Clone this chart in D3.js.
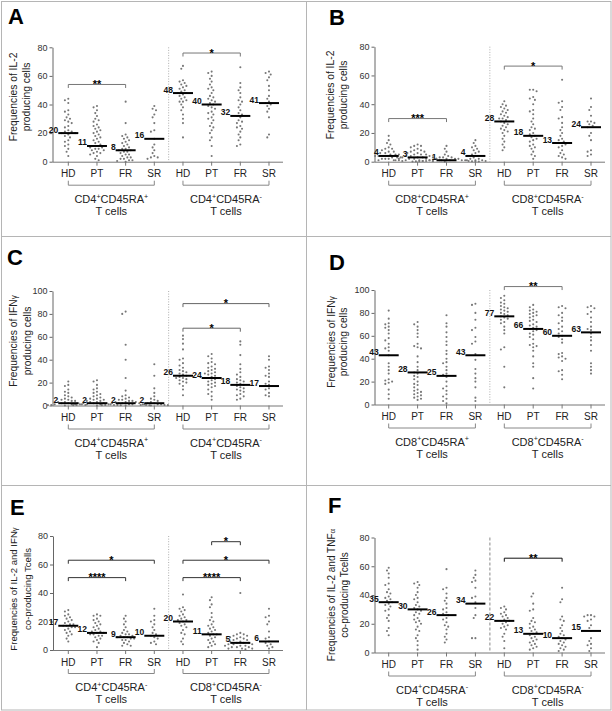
<!DOCTYPE html>
<html><head><meta charset="utf-8">
<script src="https://cdn.jsdelivr.net/npm/d3@7/dist/d3.min.js"></script>
<style>body{margin:0;background:#fff}svg{display:block;font-family:"Liberation Sans",Arial,sans-serif}</style>
</head><body>
<svg id="chart" width="612" height="711"></svg>
<script>
// ---------- DATA ----------
const categories = ["HD","PT","FR","SR","HD","PT","FR","SR"];
const ticksIL2 = [0,20,40,60,80];
const ticksIFN = [0,20,40,60,80,100];

const valuesA = [
 [44,43,41,36,35,33,31,30,29,28,27,25,24,22,21,21,20,20,19,18,17,15,14,12,11,9,7,4],
 [39,38,36,34,32,30,29,28,26,25,24,23,22,21,20,19,18,17,16,15,14,13,12,11,11,10,10,9,9,8,8,7,6,6,5,4,2,1],
 [42,27,19,18,17,16,15,14,13,12,11,10,9,9,8,8,7,7,6,5,5,4,3,3,2,2,1,1,0.5,0],
 [39,37,36,33,31,27,22,21,16,12,10,8,6,4,3,3,2],
 [67,65,57,56,55,54,53,52,51,50,49,48,48,47,46,45,44,43,42,42,40,38,36,33,30,27,17],
 [63,62,60,58,56,54,52,51,50,48,46,45,44,43,42,41,40,39,38,37,35,34,33,31,30,29,27,25,24,22,20,17,15,11,4],
 [66,55,52,50,48,45,43,42,40,38,36,34,33,32,31,29,28,27,25,24,23,21,19,17,15,12,11],
 [63,62,61,59,57,53,50,46,44,42,41,40,39,37,35,31,19,17]
];
const mediansA = [20,11,8,16,48,40,32,41];

const valuesB = [
 [18,15,13,12,10,9,9,8,7,7,6,6,5,5,5,4,4,4,4,3,3,3,2,2,2,1,1,1],
 [12,11,11,10,9,8,8,7,7,6,6,5,5,5,4,4,4,3,3,3,3,2,2,2,2,2,1,1,1,1,1,0.5,0.5,0.3],
 [11,9,7,5,4,3,3,3,2,2,2,2,1,1,1,1,1,1,0.5,0.5,0.5,0.3,0.3,0.2,0.2,0.1,0.1,0],
 [15,13,11,10,9,8,7,6,5,4,3,2,2,1,1,1,0.5],
 [42,40,39,38,37,36,35,34,33,32,31,30,30,29,28,27,26,25,24,23,22,21,20,18,16,14,12,10,8],
 [50,50,49,45,44,43,40,36,35,33,30,28,26,24,23,22,20,19,18,17,16,15,14,12,11,10,9,7,5,4,2],
 [57,42,41,38,36,31,30,27,24,22,20,18,16,15,14,13,12,11,10,8,6,5,4,3,2],
 [44,38,36,32,28,28,27,26,25,24,20,18,15,8,7,5,4]
];
const mediansB = [4,3,1,4,28,18,13,24];

const valuesC = [
 [21,18,17,14,12,11,9,8,7,6,5,5,4,4,3,3,2,2,2,1,1,1,1,0.5,0.5,0.3,0],
 [22,21,18,15,14,12,11,10,9,8,7,6,6,5,5,4,4,3,3,2,2,2,2,1,1,1,1,0.5,0.5,0.5,0.3,0.2,0],
 [82,80,53,40,24,13,9,8,7,6,5,5,4,4,3,3,3,2,2,2,2,1,1,1,1,0.5,0.5,0.3,0.2,0],
 [36,26,15,11,8,6,5,4,3,2,2,1,1,1,0.5,0.5,0.3,0],
 [61,58,54,49,41,40,37,35,33,31,30,29,28,27,26,25,24,24,23,22,21,20,19,17,14,9],
 [45,43,41,38,37,36,34,33,32,31,30,29,28,28,27,26,25,24,24,23,22,21,20,19,18,17,16,14,12,10,8,5],
 [56,53,44,36,32,29,27,25,23,22,21,20,19,18,17,16,15,14,13,12,10,9,8,6,5],
 [43,40,34,33,31,28,26,25,21,19,18,17,15,14,11,9,8]
];
const mediansC = [2,2,2,2,26,24,18,17];

const valuesD = [
 [82,75,71,70,68,67,65,62,58,56,53,50,49,47,43,36,33,30,27,22,21,20,19,18,13,9,5],
 [72,70,68,65,62,59,53,51,50,49,42,37,33,30,28,27,25,24,22,20,18,17,15,13,12,11,10,9,8,7,6,5,4],
 [78,71,68,63,59,55,52,47,44,40,37,36,33,30,27,26,24,20,16,14,12,9,7,5,3,1],
 [88,87,80,74,67,65,59,55,53,44,39,31,27,23,20,15,6,3],
 [95,93,91,89,88,86,85,84,83,82,81,80,79,78,77,76,75,74,72,71,68,65,62,50,48,33,15],
 [87,85,83,82,81,80,79,78,77,76,74,73,72,70,69,68,67,66,65,64,62,61,59,57,53,52,51,50,47,42,36,33,23,14],
 [86,85,84,80,78,76,73,71,68,66,64,62,60,59,57,54,45,44,42,41,40,38,30,29,26,22],
 [86,85,84,81,79,76,72,68,66,65,62,59,56,52,47,36,33,30,27]
];
const mediansD = [43,28,25,43,77,66,60,63];

const valuesE = [
 [28,27,25,24,23,22,21,20,19,18,18,17,17,16,16,15,14,13,12,11,10,8,6],
 [25,24,24,22,21,20,19,18,17,16,15,14,13,13,12,12,11,11,10,10,9,8,7,6,5,2],
 [24,22,20,18,16,14,13,12,11,11,10,10,9,9,9,8,8,7,7,6,5,4,3,3],
 [29,24,21,20,18,16,14,12,11,10,9,8,6,5,4],
 [39,30,29,28,27,25,24,23,22,21,21,20,19,18,17,16,14,12,11,8,6,4],
 [37,35,32,30,26,23,21,20,18,17,16,15,14,13,12,11,11,10,9,8,7,6,5,4,3,2],
 [40,12,11,11,10,10,9,9,8,8,7,7,6,6,5,5,5,4,4,4,3,3,3,2,2,2,1,1,1,0.5],
 [29,24,23,20,18,13,9,8,6,5,4,3,2,1]
];
const mediansE = [17,12,9,10,20,11,5,6];

const valuesF = [
 [59,57,55,52,48,47,44,42,41,39,38,37,36,35,34,33,32,30,29,26,24,22,17,15,12],
 [49,48,47,45,42,40,38,37,35,33,32,31,30,29,28,27,26,24,23,22,21,20,18,16,15,12,10,8,5,2],
 [58,45,44,41,38,36,34,31,30,28,27,26,24,23,21,19,18,16,13,11,9,7],
 [57,54,52,50,49,45,39,38,35,31,26,24,10,10],
 [32,31,30,28,27,26,25,24,23,22,22,21,20,19,18,17,16,13,11,8,3],
 [41,39,34,30,29,24,22,21,20,18,17,16,15,14,13,12,11,10,9,8,7,6,5,4,3,2],
 [45,37,35,25,23,22,19,17,15,13,12,11,10,9,8,7,6,5,4,3,2,1],
 [26,26,25,25,23,22,19,17,15,10,8,6,5,3,1]
];
const mediansF = [35,30,26,34,22,13,10,15];

// significance brackets: [fromIndex, toIndex, value, stars]
const sigA = [[0,2,54,"**"],[4,6,76,"*"]];
const sigB = [[0,2,30,"***"],[4,6,66.5,"*"]];
const sigC = [[4,7,89,"*"],[4,6,67.5,"*"]];
const sigD = [[4,6,103,"**"]];
const sigE = [[0,3,63,"*"],[0,2,50.8,"****"],[5,6,76,"*"],[4,7,63,"*"],[4,6,50.8,"****"]];
const sigF = [[4,6,65.6,"**"]];

const titleIL2 = ["Frequencies of IL-2","producing cells"];
const titleIFN = ["Frequencies of IFN|γ","producing cells"];
const titleE = ["Frequencies of IL-2 and IFN|γ","co-producing Tcells"];
const titleF = ["Frequencies of IL-2 and TNF|α","co-producing Tcells"];

const groupCD4 = [["CD4","+","CD45RA","+"],["CD4","+","CD45RA","-"]];
const groupCD8 = [["CD8","+","CD45RA","+"],["CD8","+","CD45RA","-"]];
const groupE = [["CD4","+","CD45RA","-"],["CD8","+","CD45RA","-"]];

// ---------- LAYOUT ----------
const panels = [
 {L:"A",lx:8,ly:24,ax:52.5,x0:68.3,dx:28.67,y0:161.7,yTop:47.3,max:80,ticks:ticksIL2,vals:valuesA,med:mediansA,sig:sigA,title:titleIL2,tx1:17,tx2:30,tcy:97,groups:groupCD4,bc:"#777",sep:"dot"},
 {L:"B",lx:329,ly:25,ax:374.5,x0:388.7,dx:28.9,y0:161.7,yTop:46.7,max:80,ticks:ticksIL2,vals:valuesB,med:mediansB,sig:sigB,title:titleIL2,tx1:334,tx2:347,tcy:95,groups:groupCD8,bc:"#777",sep:"dot"},
 {L:"C",lx:7,ly:265,ax:52.5,x0:68.3,dx:28.67,y0:405.5,yTop:291,max:100,ticks:ticksIFN,vals:valuesC,med:mediansC,sig:sigC,title:titleIFN,tx1:17,tx2:31,tcy:341,groups:groupCD4,bc:"#666",sep:"dot"},
 {L:"D",lx:329,ly:270,ax:374.5,x0:388.7,dx:28.9,y0:404.5,yTop:290,max:100,ticks:ticksIFN,vals:valuesD,med:mediansD,sig:sigD,title:titleIFN,tx1:335,tx2:347,tcy:342,groups:groupCD8,bc:"#777",sep:"dot"},
 {L:"E",lx:10,ly:515,ax:53,x0:68.3,dx:28.67,y0:650,yTop:536,max:80,ticks:ticksIL2,vals:valuesE,med:mediansE,sig:sigE,title:titleE,tx1:16.5,tx2:31,tcy:589,groups:groupE,bc:"#333",sep:"dot",tfs:9.6},
 {L:"F",lx:328,ly:513,ax:374.5,x0:388.7,dx:28.9,y0:652.5,yTop:537.5,max:80,ticks:ticksIL2,vals:valuesF,med:mediansF,sig:sigF,title:titleF,tx1:335,tx2:348,tcy:595,groups:groupE,bc:"#111",sep:"dash",tfs:10}
];

const svg = d3.select("#chart");

// panel frame
const frame = svg.append("g").attr("stroke","#b5b5b5").attr("stroke-width",1).attr("fill","none");
frame.append("rect").attr("x",1.5).attr("y",1.5).attr("width",609.5).attr("height",708.5);
frame.append("line").attr("x1",306.5).attr("x2",306.5).attr("y1",1.5).attr("y2",710);
frame.append("line").attr("x1",1.5).attr("x2",611).attr("y1",236.5).attr("y2",236.5);
frame.append("line").attr("x1",1.5).attr("x2",611).attr("y1",485.5).attr("y2",485.5);

function swarm(vals, cx, y){
  const sorted = vals.slice().sort((a,b)=>b-a);
  const placed = [];
  const md = 3.3;
  sorted.forEach(v=>{
    const py = y(v);
    for(let k=0;k<60;k++){
      const off = (k%2===1?-1:1)*Math.ceil(k/2)*1.7;
      const px = cx+off;
      if(placed.every(p=>(p.x-px)*(p.x-px)+(p.y-py)*(p.y-py)>=md*md)){placed.push({x:px,y:py});break;}
    }
  });
  return placed;
}

function supText(sel, parts, fs){
  sel.append("tspan").text(parts[0]);
  sel.append("tspan").attr("font-size",fs*0.65).attr("dy",-fs*0.38).text(parts[1]);
  sel.append("tspan").attr("dy",fs*0.38).text(parts[2]);
  sel.append("tspan").attr("font-size",fs*0.65).attr("dy",-fs*0.38).text(parts[3]);
}

panels.forEach(p=>{
  const g = svg.append("g");
  const y = d3.scaleLinear().domain([0,p.max]).range([p.y0,p.yTop]);
  const xs = categories.map((c,i)=>p.x0+i*p.dx);

  // letter
  g.append("text").attr("x",p.lx).attr("y",p.ly).attr("font-size",22).attr("font-weight","bold")
   .attr("font-family","'Liberation Sans',Arial,sans-serif").text(p.L);

  // y axis
  const ya = g.append("g").attr("transform",`translate(${p.ax},0)`)
    .call(d3.axisLeft(y).tickValues(p.ticks).tickSize(3).tickSizeOuter(0).tickPadding(2));
  ya.select(".domain").attr("stroke","#666");
  ya.selectAll(".tick line").attr("stroke","#666");
  ya.selectAll(".tick text").attr("font-size",9).attr("fill","#333").attr("font-family","'Liberation Sans',Arial,sans-serif");

  // x axis line + ticks
  g.append("line").attr("x1",p.ax).attr("x2",xs[7]+14).attr("y1",p.y0+0.5).attr("y2",p.y0+0.5).attr("stroke","#777");
  g.selectAll(".xt").data(xs).enter().append("line").attr("x1",d=>d).attr("x2",d=>d)
    .attr("y1",p.y0).attr("y2",p.y0+4).attr("stroke","#777");
  g.selectAll(".xl").data(categories).enter().append("text").attr("x",(d,i)=>xs[i]).attr("y",p.y0+15.5)
    .attr("text-anchor","middle").attr("font-size",10).attr("fill","#222").text(d=>d);

  // separator
  const sx = (xs[3]+xs[4])/2;
  g.append("line").attr("x1",sx).attr("x2",sx).attr("y1",p.yTop).attr("y2",p.y0)
    .attr("stroke",p.sep==="dash"?"#aaa":"#999").attr("stroke-width",p.sep==="dash"?1.4:0.8)
    .attr("stroke-dasharray",p.sep==="dash"?"3,2":"1,1.6");

  // group brackets + labels
  [0,1].forEach(k=>{
    const a = xs[k*4], b = xs[k*4+3], by = p.y0+23.5;
    g.append("path").attr("d",`M${a},${by-4.5}V${by}H${b}V${by-4.5}`).attr("fill","none").attr("stroke","#888");
    const t = g.append("text").attr("x",(a+b)/2).attr("y",p.y0+41).attr("text-anchor","middle").attr("font-size",11).attr("fill","#222");
    supText(t,p.groups[k],11);
    g.append("text").attr("x",(a+b)/2).attr("y",p.y0+53).attr("text-anchor","middle").attr("font-size",11).attr("fill","#222").text("T cells");
  });

  // y title
  const tfs = p.tfs||10.3;
  p.title.forEach((line,li)=>{
    const tx = li===0?p.tx1:p.tx2;
    const t = g.append("text").attr("transform",`translate(${tx},${p.tcy}) rotate(-90)`).attr("text-anchor","middle")
      .attr("font-size",tfs).attr("fill","#222");
    const parts = line.split("|");
    t.append("tspan").text(parts[0]);
    if(parts[1]) t.append("tspan").attr("font-size",tfs*0.8).text(parts[1]);
  });

  // dots
  p.vals.forEach((vals,i)=>{
    const pts = swarm(vals,xs[i],y);
    g.selectAll(null).data(pts).enter().append("circle").attr("cx",d=>d.x).attr("cy",d=>d.y).attr("r",1.05).attr("fill","#777");
  });

  // medians
  p.med.forEach((m,i)=>{
    const my = y(m);
    g.append("line").attr("x1",xs[i]-10).attr("x2",xs[i]+10).attr("y1",my).attr("y2",my).attr("stroke","#000").attr("stroke-width",2);
    g.append("text").attr("x",xs[i]-10).attr("y",my-0.5).attr("text-anchor","end").attr("font-size",8.5)
      .attr("font-weight","bold").attr("fill","#111").text(m);
  });

  // significance
  p.sig.forEach(s=>{
    const a = xs[s[0]], b = xs[s[1]], sy = y(s[2]);
    g.append("path").attr("d",`M${a},${sy+3.5}V${sy}H${b}V${sy+3.5}`).attr("fill","none").attr("stroke",p.bc).attr("stroke-width",1);
    g.append("text").attr("x",(a+b)/2).attr("y",sy+3.5).attr("text-anchor","middle").attr("font-size",11).attr("font-weight","bold").attr("fill","#000").text(s[3]);
  });
});
</script>
</body></html>
